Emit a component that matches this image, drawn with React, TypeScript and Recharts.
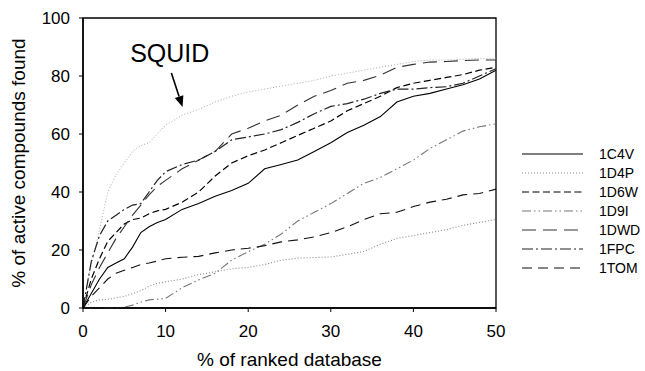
import React from "react";
import {
  LineChart,
  Line,
  XAxis,
  YAxis,
  ReferenceArea,
  ReferenceDot,
  ReferenceLine,
  Legend,
  Label,
} from "recharts";

// % of ranked database (shared x grid)
const pctDb = [0, 1, 2, 3, 4, 5, 6, 7, 8, 9, 10, 12, 14, 16, 18, 20, 22, 24, 26, 28, 30, 32, 34, 36, 38, 40, 42, 44, 46, 48, 50];

// % of active compounds found, per target
const squid = [0, 15, 27, 40, 46, 50, 54, 56, 57, 60, 63, 66.5, 68.5, 71, 73, 74.5, 75.5, 76.5, 77.5, 78.5, 80, 81, 82, 83, 84, 85, 85.5, 85.5, 85.8, 86, 86];
const c4v = [0, 5, 10, 14, 15.5, 17, 21, 26, 28, 29.5, 30.5, 34, 36, 38.5, 40.5, 43, 48, 49.5, 51, 54, 57, 60.5, 63, 66, 71, 73, 74, 75.5, 77, 79, 82];
const d4p = [0, 2, 2.8, 3, 3.5, 4, 5, 6, 7.5, 8.5, 9, 10, 11.5, 12.5, 13.5, 14, 15, 16.5, 17.2, 17.4, 17.6, 18.5, 19.5, 22, 24, 25, 26, 27, 28.5, 29.5, 30.5];
const d6w = [0, 10, 17, 23, 26, 29, 30.5, 31, 32.5, 33.5, 34, 36.5, 40, 45.5, 50, 52.5, 54.5, 57, 59.5, 62, 64.5, 68, 70.5, 73, 76, 77.5, 78.5, 79.5, 80.5, 82, 83];
const d9i = [0, 0, 0, 0, 0, 0.3, 1, 2, 2.8, 3, 3.3, 7, 9.7, 12, 16.5, 19.4, 22, 25.5, 30, 33, 36, 39.5, 43, 45, 48, 51, 55, 58, 61, 62.5, 63.5];
const dwd = [0, 8, 14, 19, 24, 28, 32, 35.5, 39, 42, 44, 48, 51, 54, 60, 62, 64.5, 66.5, 70, 73, 75, 77.5, 78.5, 80.3, 83, 84, 84.8, 85, 85.3, 85.5, 85.5];
const fpc = [0, 16, 25, 30, 32, 34, 35.5, 36, 40, 44, 47, 49.5, 51, 54, 58, 59, 60, 61.5, 64, 67, 69.5, 70.5, 72, 74, 75.5, 75.5, 76, 76.3, 77.5, 80, 82.5];
const tom = [0, 4, 7, 10, 12, 13, 14, 15, 15.5, 16.2, 17, 17.5, 17.8, 19, 20, 20.6, 21.5, 22.8, 23.5, 24.5, 26, 28, 30.5, 32.5, 33, 35, 36.5, 37.5, 39, 39.5, 41];

const xTicks = [0, 10, 20, 30, 40, 50];
const yTicks = [0, 20, 40, 60, 80, 100];

const FONT = "'Liberation Sans', Arial, sans-serif";

const series = [
  { key: "1C4V", color: "#000", dash: undefined, width: 1.1 },
  { key: "1D4P", color: "#888", dash: "1 2", width: 1.1 },
  { key: "1D6W", color: "#000", dash: "7 3.5", width: 1.2 },
  { key: "1D9I", color: "#777", dash: "9 3 1.5 3 1.5 3", width: 1.1 },
  { key: "1DWD", color: "#333", dash: "14 7", width: 1.1 },
  { key: "1FPC", color: "#222", dash: "11 3 2 3", width: 1.2 },
  { key: "1TOM", color: "#111", dash: "10 6", width: 1.1 },
];

const chartData = pctDb.map((x, i) => ({
  x,
  SQUID: squid[i],
  "1C4V": c4v[i],
  "1D4P": d4p[i],
  "1D6W": d6w[i],
  "1D9I": d9i[i],
  "1DWD": dwd[i],
  "1FPC": fpc[i],
  "1TOM": tom[i],
}));

const renderLegend = () => (
  <svg width={130} height={135}>
    {series.map((s, i) => {
      const y = 9 + i * 19;
      return (
        <g key={s.key}>
          <line x1={7} x2={68} y1={y} y2={y} stroke={s.color} strokeWidth={s.width} strokeDasharray={s.dash} />
          <text x={84} y={y} dy="0.36em" fontSize={14} fontFamily={FONT} fill="#000">
            {s.key}
          </text>
        </g>
      );
    })}
  </svg>
);

const ArrowShape = (props: any) => {
  const { x1, y1, x2, y2 } = props;
  const ang = Math.atan2(y2 - y1, x2 - x1);
  const len = 11;
  const w = 4.5;
  const bx = x2 - len * Math.cos(ang);
  const by = y2 - len * Math.sin(ang);
  const px = -Math.sin(ang) * w;
  const py = Math.cos(ang) * w;
  return (
    <g>
      <line x1={x1} y1={y1} x2={bx} y2={by} stroke="#000" strokeWidth={1.6} />
      <polygon points={`${x2},${y2} ${bx + px},${by + py} ${bx - px},${by - py}`} fill="#000" />
    </g>
  );
};

export default function App() {
  return (
    <div style={{ position: "absolute", left: 0, top: 0, background: "#fff" }}>
      <LineChart
        width={645}
        height={371}
        data={chartData}
        margin={{ top: 18, right: 149, bottom: 18, left: 23 }}
      >
        <XAxis
          dataKey="x"
          type="number"
          domain={[0, 50]}
          ticks={xTicks}
          height={45}
          tickSize={4}
          tickMargin={13}
          axisLine={{ stroke: "#000", strokeWidth: 1.5 }}
          tickLine={{ stroke: "#000" }}
          tick={{ fontSize: 17, fill: "#000", fontFamily: FONT }}
        >
          <Label
            content={(p: any) => {
              const vb = p.viewBox;
              return (
                <text x={vb.x + vb.width / 2} y={366} textAnchor="middle" fontSize={19} fontFamily={FONT} fill="#000">
                  % of ranked database
                </text>
              );
            }}
          />
        </XAxis>
        <YAxis
          type="number"
          domain={[0, 100]}
          ticks={yTicks}
          width={60}
          tickSize={4}
          tickMargin={9}
          axisLine={{ stroke: "#000", strokeWidth: 1.5 }}
          tickLine={{ stroke: "#000" }}
          tick={{ fontSize: 17, fill: "#000", fontFamily: FONT }}
        >
          <Label
            content={(p: any) => {
              const vb = p.viewBox;
              const cy = vb.y + vb.height / 2;
              return (
                <text
                  x={18}
                  y={cy}
                  transform={`rotate(-90, 18, ${cy})`}
                  textAnchor="middle"
                  dominantBaseline="central"
                  fontSize={19}
                  fontFamily={FONT}
                  fill="#000"
                >
                  % of active compounds found
                </text>
              );
            }}
          />
        </YAxis>
        <ReferenceArea x1={0} x2={50} y1={0} y2={100} fill="none" stroke="#000" strokeWidth={1.3} />
        <Legend
          verticalAlign="middle"
          layout="horizontal"
          content={renderLegend}
          wrapperStyle={{ position: "absolute", left: 515, top: 145, width: 130 }}
        />
        <Line
          dataKey="SQUID"
          stroke="#aaa"
          strokeWidth={1}
          strokeDasharray="1 2"
          dot={false}
          legendType="none"
          isAnimationActive={false}
        />
        {series.map((s) => (
          <Line
            key={s.key}
            dataKey={s.key}
            stroke={s.color}
            strokeWidth={s.width}
            strokeDasharray={s.dash}
            dot={false}
            isAnimationActive={false}
          />
        ))}
        <ReferenceDot
          x={10.5}
          y={84.8}
          r={0}
          shape={(p: any) => (
            <text x={p.cx} y={p.cy} textAnchor="middle" fontSize={25} fontFamily={FONT} fill="#000">
              SQUID
            </text>
          )}
        />
        <ReferenceLine
          segment={[
            { x: 10.7, y: 81 },
            { x: 12.05, y: 69.3 },
          ]}
          shape={ArrowShape}
        />
      </LineChart>
    </div>
  );
}
